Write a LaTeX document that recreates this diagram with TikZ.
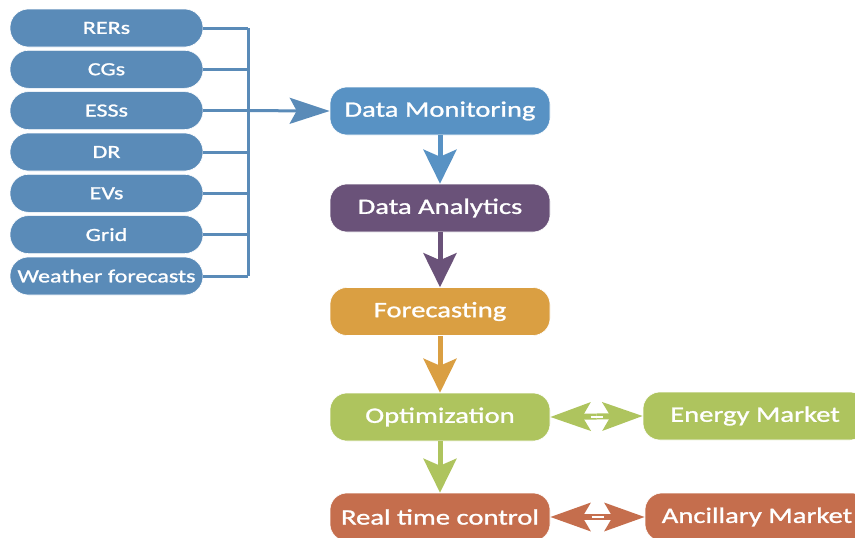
\documentclass[tikz,border=0pt]{standalone}
\usepackage{fontspec}
\setmainfont{Carlito}[FakeStretch=1.3, FakeBold=1.2]
\usetikzlibrary{arrows.meta, calc}

\definecolor{srcblue}{HTML}{5A8BB8}
\definecolor{monblue}{HTML}{5892C4}
\definecolor{anapurple}{HTML}{6A5279}
\definecolor{foreorange}{HTML}{DA9F42}
\definecolor{optgreen}{HTML}{AEC45E}
\definecolor{ctrlred}{HTML}{C56E4D}

\tikzset{
  srcbox/.style={fill=srcblue, draw=white, line width=0.6pt, rounded corners=18.5pt,
    minimum width=193pt, minimum height=38pt, inner sep=0pt, text=white,
    font=\fontsize{18.5}{20}\selectfont},
  stagebox/.style={fill=#1, draw=white, line width=0.6pt, rounded corners=17pt,
    minimum width=220pt, minimum height=48pt, inner sep=0pt, text=white,
    font=\fontsize{22}{24}\selectfont},
  bus/.style={draw=srcblue, line width=3pt},
  flow/.style={draw=#1, line width=5pt,
    -{Stealth[length=34pt, width=33pt, inset=7pt, color=#1]}},
  busarrow/.style={draw=srcblue, line width=3pt,
    -{Stealth[length=40pt, width=26pt, inset=7pt, color=srcblue]}},
  halfway/.style={draw=#1, line width=6pt,
    -{Stealth[length=40pt, width=28pt, inset=8pt, color=#1]}},
  gap/.style={draw=white, line width=2pt}
}

\begin{document}
\begin{tikzpicture}[x=1pt, y=-1pt]
\useasboundingbox (0,0) rectangle (855,538);

% sources on the left
\node[srcbox] (rer) at (106.5,28) {RERs};
\node[srcbox] (cg)  at (106.5,69.3) {CGs};
\node[srcbox] (ess) at (106.5,110.6) {ESSs};
\node[srcbox] (dr)  at (106.5,152) {DR};
\node[srcbox] (ev)  at (106.5,193.3) {EVs};
\node[srcbox] (grid) at (106.5,234.6) {Grid};
\node[srcbox] (wf)  at (106.5,276) {Weather forecasts};

% processing chain
\node[stagebox=monblue]    (mon)  at (440,111) {Data Monitoring};
\node[stagebox=anapurple]  (ana)  at (440,208) {Data Analytics};
\node[stagebox=foreorange] (fore) at (440,311.5) {Forecasting};
\node[stagebox=optgreen]   (opt)  at (440,417) {Optimization};
\node[stagebox=ctrlred]    (ctrl) at (440,517) {Real time control};

% markets
\node[stagebox=optgreen, minimum width=224pt] (em) at (755,416) {Energy Market};
\node[stagebox=ctrlred, minimum width=224pt]  (am) at (757,517) {Ancillary Market};

% collecting bus
\coordinate (bustop) at (248,28);
\coordinate (busbot) at (248,276);
\coordinate (busmid) at (248,110.6);
\draw[bus] (bustop) -- (busbot);
\foreach \n in {rer,cg,ess,dr,ev,grid,wf}
  \draw[bus] (\n.east) -- (\n.east -| bustop);
\draw[busarrow] (busmid) -- (mon.west);

% flow between stages
\draw[flow=monblue]    (mon.south)  -- (ana.north);
\draw[flow=anapurple]  (ana.south)  -- (fore.north);
\draw[flow=foreorange] (fore.south) -- (opt.north);
\draw[flow=optgreen]   (opt.south)  -- (ctrl.north);

% exchanges with the markets: two heads joined by a hollow shaft
\coordinate (optmid) at ($(opt.east)!0.5!(em.west)$);
\draw[halfway=optgreen] (optmid) -- (opt.east);
\draw[halfway=optgreen] (optmid) -- (em.west);
\draw[gap] ([xshift=-6pt]optmid) -- ([xshift=6pt]optmid);

\coordinate (ctrlmid) at ($(ctrl.east)!0.5!(am.west)$);
\draw[halfway=ctrlred] (ctrlmid) -- (ctrl.east);
\draw[halfway=ctrlred] (ctrlmid) -- (am.west);
\draw[gap] ([xshift=-6pt]ctrlmid) -- ([xshift=6pt]ctrlmid);
\end{tikzpicture}
\end{document}
